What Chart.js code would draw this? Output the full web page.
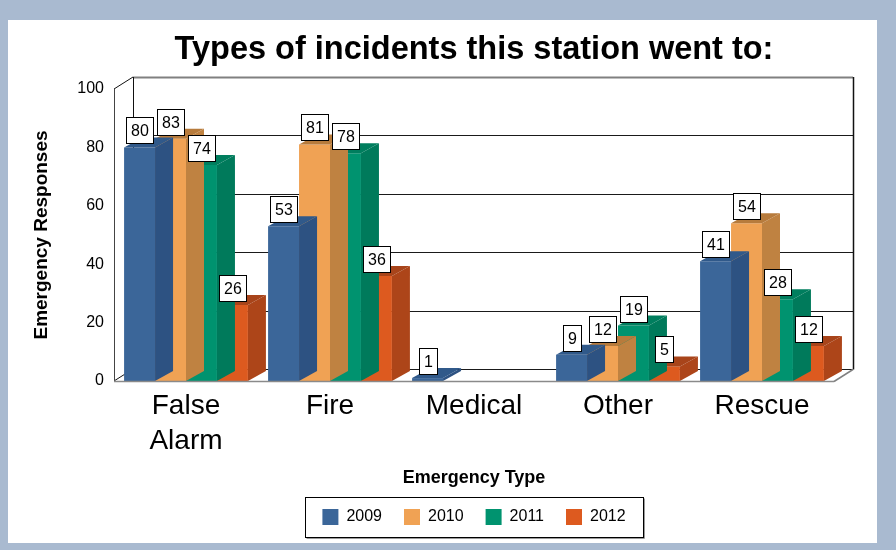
<!DOCTYPE html>
<html><head><meta charset="utf-8">
<script src="https://cdn.jsdelivr.net/npm/chart.js@4.4.1/dist/chart.umd.min.js"></script>
<style>
html,body{margin:0;padding:0;background:#a9bad0;width:896px;height:550px;overflow:hidden}
#wrap{position:absolute;left:8px;top:20px;width:869px;height:523px;background:#fff}
canvas{display:block}
</style></head><body>
<div id="wrap"><canvas id="c" width="869" height="523"></canvas></div>
<script>
const categories = [['False', 'Alarm'], 'Fire', 'Medical', 'Other', 'Rescue'];
const seriesNames = ['2009', '2010', '2011', '2012'];
const values2009 = [80, 53, 1, 9, 41];
const values2010 = [83, 81, null, 12, 54];
const values2011 = [74, 78, null, 19, 28];
const values2012 = [26, 36, null, 5, 12];
const yTicks = [0, 20, 40, 60, 80, 100];

const frontColors = ['#3b6699', '#f0a254', '#00936f', '#dd5a1f'];
const sideColors = ['#2d5282', '#bf8241', '#007a5b', '#ad4519'];
const topColors = ['#30598a', '#b77b3c', '#007e5e', '#a8441a'];
const FONT = "'Liberation Sans', Arial, Helvetica, sans-serif";
const WALL_DX = 19, WALL_DY = 12, BAR_DX = 18, BAR_DY = 10;

const allSeries = [values2009, values2010, values2011, values2012];

function line(ctx, x1, y1, x2, y2, color, w) {
  ctx.beginPath();
  ctx.strokeStyle = color;
  ctx.lineWidth = w;
  ctx.moveTo(x1, y1);
  ctx.lineTo(x2, y2);
  ctx.stroke();
}
function poly(ctx, pts, color) {
  ctx.beginPath();
  ctx.moveTo(pts[0][0], pts[0][1]);
  for (let i = 1; i < pts.length; i++) ctx.lineTo(pts[i][0], pts[i][1]);
  ctx.closePath();
  ctx.fillStyle = color;
  ctx.fill();
}

const threeD = {
  id: 'threeD',
  beforeDatasetsDraw(chart) {
    const {ctx, chartArea: a, scales: {y}} = chart;
    ctx.save();
    const yTop = Math.round(y.getPixelForValue(yTicks[yTicks.length - 1]));
    const yBot = Math.round(y.getPixelForValue(yTicks[0]));
    yTicks.forEach(v => {
      const py = Math.round(y.getPixelForValue(v)) - WALL_DY + 0.5;
      if (v === yTicks[yTicks.length - 1]) {
        line(ctx, a.left + WALL_DX, py, a.right + WALL_DX, py, '#808080', 2);
      } else {
        line(ctx, a.left + WALL_DX, py, a.right + WALL_DX, py, '#1a1a1a', 1);
      }
    });
    line(ctx, a.left + WALL_DX + 0.5, yTop - WALL_DY, a.left + WALL_DX + 0.5, yBot - WALL_DY, '#111', 1);
    line(ctx, a.right + WALL_DX + 0.5, yTop - WALL_DY, a.right + WALL_DX + 0.5, yBot - WALL_DY + 0.5, '#111', 1.5);
    line(ctx, a.left, yTop, a.left + WALL_DX, yTop - WALL_DY, '#111', 1);
    line(ctx, a.left, yBot, a.left + WALL_DX, yBot - WALL_DY, '#111', 1);
    line(ctx, a.left + 0.5, yTop, a.left + 0.5, yBot, '#444', 1);
    line(ctx, a.right, yBot + 0.5, a.right + WALL_DX, yBot - WALL_DY + 0.5, '#808080', 1.5);
    ctx.restore();
  },
  afterDatasetDraw(chart, args) {
    const {ctx} = chart;
    const di = args.index;
    const meta = args.meta;
    const data = chart.data.datasets[di].data;
    ctx.save();
    meta.data.forEach((bar, i) => {
      if (data[i] == null) return;
      const p = bar.getProps(['x', 'y', 'base', 'width'], true);
      const L = p.x - p.width / 2, R = p.x + p.width / 2, T = p.y, B = p.base;
      poly(ctx, [[R, B], [R, T], [R + BAR_DX, T - BAR_DY], [R + BAR_DX, B - BAR_DY]], sideColors[di]);
      poly(ctx, [[L, T], [R, T], [R + BAR_DX, T - BAR_DY], [L + BAR_DX, T - BAR_DY]], topColors[di]);
    });
    ctx.restore();
  },
  afterDatasetsDraw(chart) {
    const {ctx, chartArea: a, scales: {y}} = chart;
    ctx.save();
    const yBot = Math.round(y.getPixelForValue(0));
    line(ctx, a.left, yBot + 0.5, a.right, yBot + 0.5, '#8a8a8a', 1.5);
    ctx.font = '16px ' + FONT;
    ctx.textAlign = 'center';
    ctx.textBaseline = 'middle';
    chart.data.datasets.forEach((ds, di) => {
      const meta = chart.getDatasetMeta(di);
      meta.data.forEach((bar, i) => {
        const v = ds.data[i];
        if (v == null) return;
        const p = bar.getProps(['x', 'y'], true);
        const txt = String(v);
        const w = Math.round(ctx.measureText(txt).width + 9);
        const h = 26;
        const left = Math.round(p.x - w / 2) + 0.5;
        const top = Math.round(p.y - 4 - h) + 0.5;
        ctx.fillStyle = '#ffffff';
        ctx.fillRect(left, top, w, h);
        ctx.strokeStyle = '#000';
        ctx.lineWidth = 1;
        ctx.strokeRect(left, top, w, h);
        ctx.fillStyle = '#000';
        ctx.fillText(txt, left + w / 2, top + h / 2 + 1);
      });
    });
    ctx.restore();
  },
  afterDraw(chart) {
    const {ctx} = chart;
    const hb = chart.legend && chart.legend.legendHitBoxes;
    if (!hb || !hb.length) return;
    const l = Math.round(hb[0].left - 17) + 0.5;
    const last = hb[hb.length - 1];
    const r = Math.round(last.left + last.width + 17) + 0.5;
    const cy = hb[0].top + hb[0].height / 2;
    const t = Math.round(cy - 20) + 0.5;
    ctx.save();
    ctx.strokeStyle = '#9a9a9a';
    ctx.lineWidth = 1;
    ctx.beginPath();
    ctx.moveTo(l + 1, t + 41); ctx.lineTo(r + 1, t + 41); ctx.lineTo(r + 1, t + 1);
    ctx.stroke();
    ctx.strokeStyle = '#000';
    ctx.strokeRect(l, t, r - l, 40);
    ctx.restore();
  }
};

new Chart(document.getElementById('c'), {
  type: 'bar',
  data: {
    labels: categories,
    datasets: seriesNames.map((name, i) => ({
      label: name,
      data: allSeries[i],
      backgroundColor: frontColors[i],
      borderWidth: 0,
      categoryPercentage: 0.86,
      barPercentage: 1.0
    }))
  },
  options: {
    responsive: false,
    animation: false,
    devicePixelRatio: 1,
    layout: {padding: {left: 0, right: 43, top: 0, bottom: 8}},
    plugins: {
      tooltip: {enabled: false},
      title: {
        display: true,
        text: 'Types of incidents this station went to:',
        color: '#000',
        font: {family: FONT, size: 32.5, weight: 'bold'},
        padding: {top: 11, bottom: 19},
        fullSize: false
      },
      legend: {
        position: 'bottom',
        fullSize: false,
        labels: {
          boxWidth: 16, boxHeight: 16, padding: 22,
          color: '#000',
          font: {family: FONT, size: 16}
        }
      }
    },
    scales: {
      x: {
        grid: {display: false, drawTicks: false},
        border: {display: false},
        ticks: {color: '#000', padding: 8, font: {family: FONT, size: 28, lineHeight: 1.25}, maxRotation: 0, autoSkip: false},
        title: {display: true, text: 'Emergency Type', color: '#000', font: {family: FONT, size: 18, weight: 'bold'}, padding: {top: 0, bottom: -2}},
        afterFit(scale) { scale.height = 106; }
      },
      y: {
        min: 0, max: 100,
        grid: {display: false, drawTicks: false},
        border: {display: false},
        ticks: {stepSize: 20, color: '#000', padding: 10, font: {family: FONT, size: 16}},
        title: {display: true, text: 'Emergency Responses', color: '#000', font: {family: FONT, size: 19, weight: 'bold'}, padding: {top: 22, bottom: 0}},
        afterFit(scale) { scale.width = 106; }
      }
    }
  },
  plugins: [threeD]
});
</script>
</body></html>
